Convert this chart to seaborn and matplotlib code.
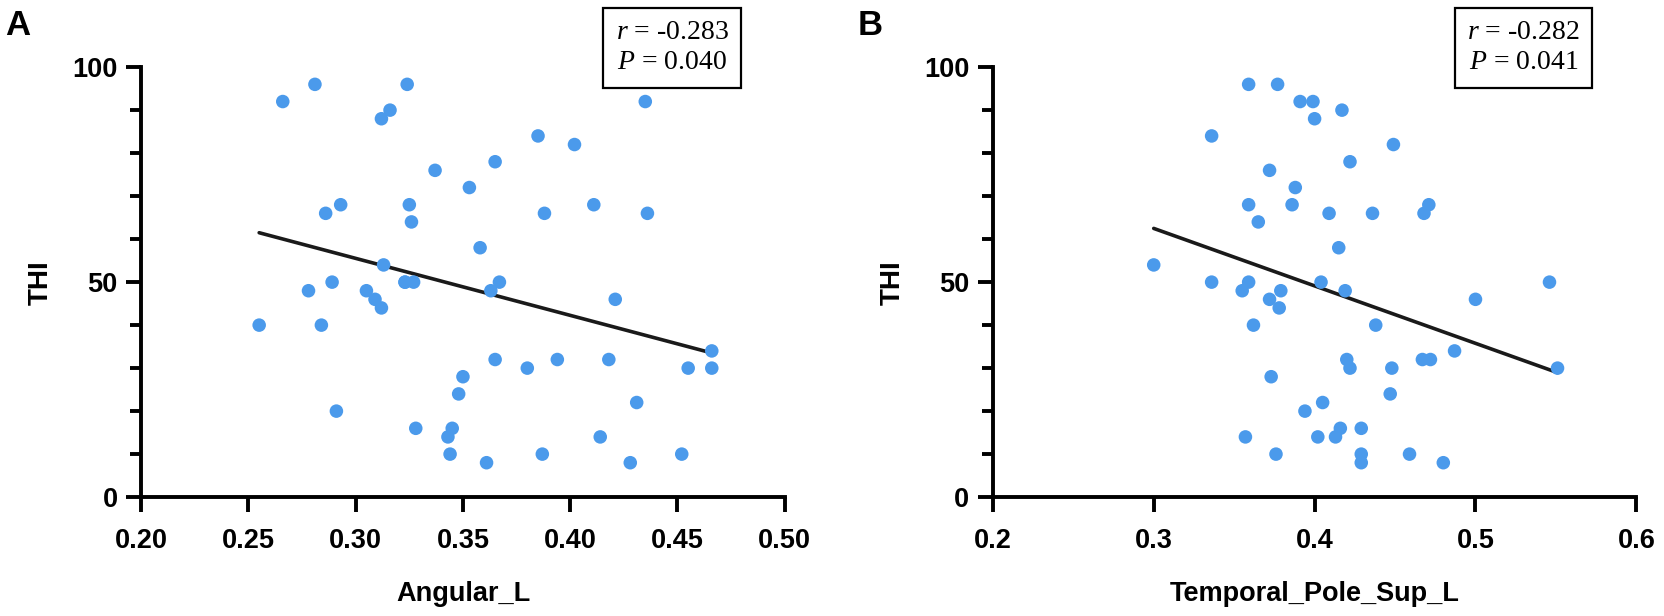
import matplotlib
matplotlib.use("Agg")
import matplotlib.pyplot as plt
from matplotlib.ticker import MultipleLocator
import numpy as np
import pandas as pd
import seaborn as sns

# ---- data ----
angular_l = [0.255, 0.266, 0.278, 0.281, 0.284, 0.286, 0.289, 0.291, 0.293, 0.305,
             0.309, 0.312, 0.312, 0.313, 0.316, 0.323, 0.324, 0.325, 0.326, 0.327,
             0.328, 0.337, 0.343, 0.344, 0.345, 0.348, 0.350, 0.353, 0.358, 0.361,
             0.363, 0.365, 0.365, 0.367, 0.380, 0.385, 0.387, 0.388, 0.394, 0.402,
             0.411, 0.414, 0.418, 0.421, 0.428, 0.431, 0.435, 0.436, 0.452, 0.455,
             0.466, 0.466, 0.323]
thi_a = [40, 92, 48, 96, 40, 66, 50, 20, 68, 48,
         46, 88, 44, 54, 90, 50, 96, 68, 64, 50,
         16, 76, 14, 10, 16, 24, 28, 72, 58, 8,
         48, 78, 32, 50, 30, 84, 10, 66, 32, 82,
         68, 14, 32, 46, 8, 22, 92, 66, 10, 30,
         34, 30, 50]

temporal_pole_sup_l = [0.300, 0.336, 0.336, 0.355, 0.357, 0.359, 0.359, 0.359, 0.362, 0.365,
                       0.372, 0.372, 0.373, 0.376, 0.377, 0.378, 0.379, 0.386, 0.388, 0.391,
                       0.394, 0.399, 0.400, 0.402, 0.404, 0.405, 0.409, 0.413, 0.415, 0.416,
                       0.417, 0.419, 0.420, 0.422, 0.422, 0.429, 0.429, 0.429, 0.436, 0.438,
                       0.447, 0.448, 0.449, 0.459, 0.467, 0.468, 0.471, 0.472, 0.480, 0.487,
                       0.500, 0.546, 0.551]
thi_b = [54, 84, 50, 48, 14, 96, 68, 50, 40, 64,
         76, 46, 28, 10, 96, 44, 48, 68, 72, 92,
         20, 92, 88, 14, 50, 22, 66, 14, 58, 16,
         90, 48, 32, 78, 30, 16, 10, 8, 66, 40,
         24, 30, 82, 10, 32, 66, 68, 32, 8, 34,
         46, 50, 30]

panels = [
    dict(letter="A", x=angular_l, y=thi_a, xlabel="Angular_L",
         xlim=(0.20, 0.50), xstep=0.05, xfmt="{:.2f}", r="-0.283", p="0.040"),
    dict(letter="B", x=temporal_pole_sup_l, y=thi_b, xlabel="Temporal_Pole_Sup_L",
         xlim=(0.2, 0.6), xstep=0.1, xfmt="{:.1f}", r="-0.282", p="0.041"),
]

# ---- style ----
sns.set_style("ticks")
plt.rcParams["font.family"] = ["Liberation Sans", "DejaVu Sans"]
plt.rcParams["mathtext.fontset"] = "custom"
plt.rcParams["mathtext.rm"] = "Liberation Serif"
plt.rcParams["mathtext.it"] = "Liberation Serif:italic"
for k in ["text.color", "axes.labelcolor", "xtick.color", "ytick.color",
          "xtick.labelcolor", "ytick.labelcolor", "axes.edgecolor"]:
    plt.rcParams[k] = "black"

point_color = "#4b9aeb"
lw = 2.8

fig = plt.figure(figsize=(16.65, 6.16), dpi=100)
ax_pos = [(0.0848, 0.193, 0.3865, 0.698), (0.5963, 0.193, 0.3865, 0.698)]
letter_pos = [(0.003, 0.985), (0.515, 0.985)]

for pos, lp, pn in zip(ax_pos, letter_pos, panels):
    ax = fig.add_axes(pos)
    df = pd.DataFrame({"x": pn["x"], "y": pn["y"]})
    sns.scatterplot(data=df, x="x", y="y", ax=ax, color=point_color, s=95,
                    edgecolor="none", linewidth=0, zorder=3, clip_on=False)
    sns.regplot(data=df, x="x", y="y", ax=ax, scatter=False, ci=None,
                truncate=True, line_kws=dict(color="#1a1a1a", lw=2.6, zorder=2))
    ax.set_xlim(*pn["xlim"])
    ax.set_ylim(0, 100)
    xt = np.arange(pn["xlim"][0], pn["xlim"][1] + 1e-9, pn["xstep"])
    ax.set_xticks(xt)
    ax.set_xticklabels([pn["xfmt"].format(v) for v in xt])
    ax.set_yticks([0, 50, 100])
    ax.yaxis.set_minor_locator(MultipleLocator(10))
    for s in ["top", "right"]:
        ax.spines[s].set_visible(False)
    for s in ["left", "bottom"]:
        ax.spines[s].set_linewidth(lw)
        ax.spines[s].set_color("black")
    ax.tick_params(axis="both", which="major", direction="out", length=11,
                   width=lw, labelsize=19.5, color="black", labelcolor="black")
    ax.tick_params(axis="x", which="major", pad=11)
    ax.tick_params(axis="y", which="major", pad=6)
    ax.tick_params(axis="y", which="minor", direction="out", length=8,
                   width=lw, color="black")
    for t in ax.get_xticklabels() + ax.get_yticklabels():
        t.set_fontweight("bold")
    ax.set_xlabel(pn["xlabel"], fontsize=19.5, fontweight="bold", labelpad=20,
                  color="black")
    ax.set_ylabel("THI", fontsize=20, fontweight="bold", labelpad=13,
                  color="black")
    ax.text(0.825, 1.045, "$r$ = " + pn["r"] + "\n$P$ = " + pn["p"],
            transform=ax.transAxes, ha="center", va="center",
            fontsize=20, family="Liberation Serif", linespacing=1.25,
            color="black",
            bbox=dict(boxstyle="square,pad=0.45", fc="white", ec="black", lw=1.6),
            clip_on=False, zorder=5)
    fig.text(lp[0], lp[1], pn["letter"], fontsize=25, fontweight="bold",
             ha="left", va="top", color="black")

fig.savefig("out.png", dpi=100, facecolor="white")
